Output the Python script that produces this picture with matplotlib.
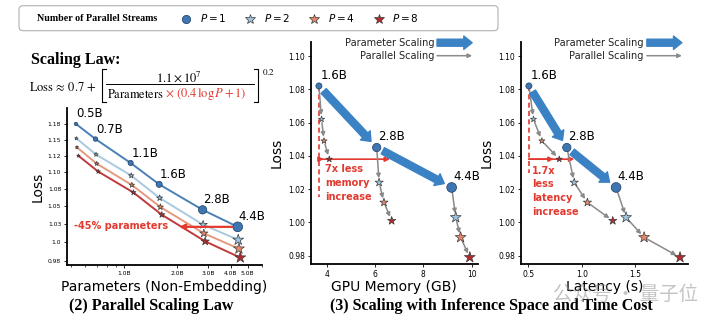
import matplotlib
matplotlib.use("Agg")
import matplotlib.pyplot as plt
from matplotlib.lines import Line2D
from matplotlib.patches import FancyBboxPatch
from matplotlib.ticker import FixedLocator, FixedFormatter, NullLocator, NullFormatter

# ---------------- data ----------------
model_labels = ["0.5B", "0.7B", "1.1B", "1.6B", "2.8B", "4.4B"]

# non-embedding parameters (billions) for each number of parallel streams
params_p1 = [0.535, 0.690, 1.090, 1.580, 2.780, 4.390]
params_p2 = [0.538, 0.695, 1.098, 1.590, 2.800, 4.420]
params_p4 = [0.542, 0.701, 1.108, 1.605, 2.825, 4.460]
params_p8 = [0.553, 0.715, 1.130, 1.635, 2.875, 4.540]

loss_p1 = [1.175, 1.151, 1.114, 1.082, 1.045, 1.021]
loss_p2 = [1.152, 1.127, 1.095, 1.062, 1.024, 1.003]
loss_p4 = [1.138, 1.113, 1.081, 1.049, 1.012, 0.991]
loss_p8 = [1.125, 1.101, 1.070, 1.038, 1.001, 0.979]

# inference cost of the three largest models (1.6B, 2.8B, 4.4B)
mem_p1 = [3.68, 6.07, 9.17]
mem_p2 = [3.79, 6.17, 9.34]
mem_p4 = [3.89, 6.37, 9.54]
mem_p8 = [4.11, 6.69, 9.92]

lat_p1 = [0.504, 0.860, 1.322]
lat_p2 = [0.547, 0.929, 1.416]
lat_p4 = [0.626, 1.053, 1.585]
lat_p8 = [0.789, 1.291, 1.922]

stream_counts = [1, 2, 4, 8]

left_yticks = [0.975, 1.0, 1.025, 1.05, 1.075, 1.10, 1.125, 1.15, 1.175]
left_yticklabels = ["0.98", "1.0", "1.03", "1.05", "1.08", "1.10", "1.12", "1.15", "1.18"]
left_xticks = [1.0, 2.0, 3.0, 4.0, 5.0]
left_xticklabels = ["1.0B", "2.0B", "3.0B", "4.0B", "5.0B"]
cost_yticks = [0.98, 1.00, 1.02, 1.04, 1.06, 1.08, 1.10]
mem_xticks = [4, 6, 8, 10]
lat_xticks = [0.5, 1.0, 1.5]

# ---------------- style ----------------
W, H = 720, 325
fill = {1: "#3d76b0", 2: "#9cc3df", 4: "#e5896a", 8: "#b52a2e"}
line_col = {1: "#4a80b8", 2: "#a9c9e0", 4: "#e59a80", 8: "#c0393c"}
edge = {1: "#1d3d63", 2: "#3a3a3a", 4: "#3a3a3a", 8: "#3a3a3a"}
marker = {1: "o", 2: "*", 4: "*", 8: "*"}
red = "#e23a30"
blue_arrow = "#3b82c4"
gray_arrow = "#8a8a8a"
blue_style = "simple,head_length=0.5,head_width=0.8,tail_width=0.42"
circle_ms = [2.4, 3.2, 3.7, 4.4, 6.0, 7.0]
star_ms = [2.6, 3.3, 4.0, 4.6, 6.2, 8.2]

params = {1: params_p1, 2: params_p2, 4: params_p4, 8: params_p8}
losses = {1: loss_p1, 2: loss_p2, 4: loss_p4, 8: loss_p8}
mems = {1: mem_p1, 2: mem_p2, 4: mem_p4, 8: mem_p8}
lats = {1: lat_p1, 2: lat_p2, 4: lat_p4, 8: lat_p8}


def fx(x):
    return x / W


def fy(y):
    return 1 - y / H


def rect(x0, y0, x1, y1):
    return [fx(x0), fy(y1), (x1 - x0) / W, (y1 - y0) / H]


def sizes(p, idx):
    ms = circle_ms if p == 1 else star_ms
    return [ms[i] ** 2 for i in idx]


def style_axes(ax, tick_fs):
    for s in ("top", "right"):
        ax.spines[s].set_visible(False)
    for s in ("left", "bottom"):
        ax.spines[s].set_linewidth(1.3)
    ax.tick_params(labelsize=tick_fs, length=2.5, width=0.6, pad=1.5)
    ax.tick_params(which="minor", length=1.5, width=0.5)


fig = plt.figure(figsize=(W / 100, H / 100), dpi=100)

# ---------------- top legend ----------------
box = FancyBboxPatch((0.19, (H - 30.7) / 100), 4.79, 0.25,
                     boxstyle="round,pad=0,rounding_size=0.04",
                     transform=fig.dpi_scale_trans, fc="white", ec="#b0b0b0", lw=0.8)
fig.add_artist(box)
fig.text(fx(37), fy(18.5), "Number of Parallel Streams", family="Liberation Serif",
         weight="bold", fontsize=7.2, ha="left", va="center")
handles = [Line2D([], [], ls="", marker=marker[p], ms=6 if p == 1 else 7.5,
                  mfc=fill[p], mec=edge[p], mew=0.5) for p in stream_counts]
fig.legend(handles, [f"$P = {p}$" for p in stream_counts], loc="center left",
           bbox_to_anchor=(fx(181), fy(18.5)), ncol=4, frameon=False, fontsize=7.5,
           handlelength=1.0, handletextpad=0.8, columnspacing=1.8,
           borderpad=0, borderaxespad=0)

# ---------------- scaling-law formula ----------------
fig.text(fx(31), fy(60), "Scaling Law:", family="Liberation Serif", weight="bold",
         fontsize=11.5, ha="left", va="center")
fig.text(fx(29), fy(87), r"$\mathrm{Loss}\,\approx\,0.7\,+$", math_fontfamily="stix",
         fontsize=9, ha="left", va="center")
fig.text(fx(179), fy(77.5), r"$1.1\times10^{7}$", math_fontfamily="stix",
         fontsize=9, ha="center", va="center")
fig.text(fx(107), fy(94.5), r"$\mathrm{Parameters}$", math_fontfamily="stix",
         fontsize=9, ha="left", va="center")
fig.text(fx(165), fy(94.5), r"$\times\ (0.4\,\log P+1)$", math_fontfamily="stix",
         fontsize=9, ha="left", va="center", color=red)
fig.text(fx(262), fy(72), r"$0.2$", math_fontfamily="stix", fontsize=6.5,
         ha="left", va="center")
frac_line = Line2D([fx(106), fx(254)], [fy(83.5), fy(83.5)], lw=0.7, color="black",
                   transform=fig.transFigure)
fig.add_artist(frac_line)
for xb, xs in ((102, 106), (258, 254)):
    fig.add_artist(Line2D([fx(xs), fx(xb), fx(xb), fx(xs)],
                          [fy(69), fy(69), fy(102), fy(102)], lw=0.8,
                          color="black", transform=fig.transFigure))

# ---------------- (2) parallel scaling law ----------------
ax1 = fig.add_axes(rect(66.7, 108, 262, 265))
ax1.set_xscale("log")
ax1.set_yscale("log")
all_idx = range(len(model_labels))
for p in stream_counts:
    ax1.plot(params[p], losses[p], color=line_col[p], lw=1.4, zorder=2)
    ax1.scatter(params[p], losses[p], s=sizes(p, all_idx), marker=marker[p],
                c=fill[p], edgecolors=edge[p], linewidths=0.5, zorder=3)
for lab, x, y in zip(model_labels, params_p1, loss_p1):
    ax1.annotate(lab, (x, y), xytext=(0.5, 2.5), textcoords="offset points",
                 ha="left", va="bottom", fontsize=8.5)
ax1.annotate("", xy=(2.05, loss_p1[-1]), xytext=(params_p1[-1], loss_p1[-1]),
             arrowprops=dict(arrowstyle="-|>", color=red, lw=1.6, shrinkA=4,
                             shrinkB=0, mutation_scale=8), zorder=4)
ax1.text(1.78, 1.0225, "-45% parameters", color=red, weight="bold", fontsize=7,
         ha="right", va="center")
ax1.set_xlim(0.4745, 6.02)
ax1.set_ylim(0.9692, 1.2008)
ax1.xaxis.set_major_locator(FixedLocator(left_xticks))
ax1.xaxis.set_major_formatter(FixedFormatter(left_xticklabels))
ax1.xaxis.set_minor_formatter(NullFormatter())
ax1.yaxis.set_major_locator(FixedLocator(left_yticks))
ax1.yaxis.set_major_formatter(FixedFormatter(left_yticklabels))
ax1.yaxis.set_minor_locator(NullLocator())
style_axes(ax1, 4.3)
ax1.set_xlabel("Parameters (Non-Embedding)", fontsize=10)
ax1.set_ylabel("Loss", fontsize=10)
ax1.xaxis.set_label_coords(0.5, -0.096)
ax1.yaxis.set_label_coords(-0.114, 0.5)
fig.text(fx(151.5), fy(306.5), "(2) Parallel Scaling Law", family="Liberation Serif",
         weight="bold", fontsize=11.5, ha="center", va="center")


# ---------------- (3) inference space / time ----------------
def cost_panel(ax, xs, xlim, xticks, xlabel, dash_bottom, long_end, note, note_xy,
               spacing):
    cost_idx = [3, 4, 5]
    c_loss = {p: losses[p][3:] for p in stream_counts}
    # parallel scaling: P=1 -> 2 -> 4 -> 8 for each model size
    for m in range(3):
        for a, b in zip(stream_counts[:-1], stream_counts[1:]):
            ax.annotate("", xy=(xs[b][m], c_loss[b][m]), xytext=(xs[a][m], c_loss[a][m]),
                        arrowprops=dict(arrowstyle="-|>", color=gray_arrow, lw=1.1,
                                        mutation_scale=6, shrinkA=2.5, shrinkB=3),
                        zorder=2)
    # parameter scaling between model sizes
    for m in range(2):
        ax.annotate("", xy=(xs[1][m + 1], c_loss[1][m + 1]), xytext=(xs[1][m], c_loss[1][m]),
                    arrowprops=dict(arrowstyle=blue_style, color=blue_arrow,
                                    mutation_scale=12, shrinkA=5, shrinkB=6),
                    zorder=2)
    for p in stream_counts:
        ax.scatter(xs[p], c_loss[p], s=sizes(p, cost_idx), marker=marker[p], c=fill[p],
                   edgecolors=edge[p], linewidths=0.5, zorder=3)
    for m, lab in enumerate(model_labels[3:]):
        ax.annotate(lab, (xs[1][m], c_loss[1][m]), xytext=(1, 3), textcoords="offset points",
                    ha="left", va="bottom", fontsize=8.5)
    # red comparison marks
    x0 = xs[1][0]
    ax.plot([x0, x0], [c_loss[1][0], dash_bottom], ls=(0, (3, 2)), color=red, lw=1.2, zorder=1)
    y8 = c_loss[8][0]
    ax.annotate("", xy=(long_end, y8), xytext=(x0, y8),
                arrowprops=dict(arrowstyle="-|>", color=red, lw=1.2, mutation_scale=7,
                                shrinkA=0, shrinkB=0), zorder=1)
    ax.annotate("", xy=(xs[8][0], y8), xytext=(x0, y8),
                arrowprops=dict(arrowstyle="-|>", color=red, lw=1.2, mutation_scale=7,
                                shrinkA=0, shrinkB=4), zorder=1)
    ax.text(note_xy[0], note_xy[1], note, color=red, weight="bold", fontsize=7,
            ha="left", va="top", linespacing=spacing)
    # arrow legend
    ax.text(0.737, 0.9955, "Parameter Scaling", transform=ax.transAxes, fontsize=7,
            ha="right", va="center", color="#222222")
    ax.text(0.737, 0.937, "Parallel Scaling", transform=ax.transAxes, fontsize=7,
            ha="right", va="center", color="#222222")
    ax.annotate("", xy=(0.965, 0.9955), xytext=(0.755, 0.9955), xycoords="axes fraction",
                arrowprops=dict(arrowstyle=blue_style, color=blue_arrow,
                                mutation_scale=12, shrinkA=0, shrinkB=0),
                annotation_clip=False)
    ax.annotate("", xy=(0.965, 0.937), xytext=(0.755, 0.937), xycoords="axes fraction",
                arrowprops=dict(arrowstyle="-|>", color=gray_arrow, lw=1.1, mutation_scale=6,
                                shrinkA=0, shrinkB=0),
                annotation_clip=False)
    ax.set_xlim(*xlim)
    ax.set_ylim(0.975, 1.1086)
    ax.set_xticks(xticks)
    ax.set_yticks(cost_yticks)
    ax.set_yticklabels([f"{v:.2f}" for v in cost_yticks])
    style_axes(ax, 5.5)
    ax.set_xlabel(xlabel, fontsize=10)
    ax.set_ylabel("Loss", fontsize=10)
    ax.xaxis.set_label_coords(0.5, -0.07)


ax2 = fig.add_axes(rect(310.7, 41.7, 478, 264))
cost_panel(ax2, mems, (3.34, 10.26), mem_xticks, "GPU Memory (GB)", 1.0155, 6.62,
           "7x less\nmemory\nincrease", (3.93, 1.035), 1.5)
ax2.yaxis.set_label_coords(-0.16, 0.5)

ax3 = fig.add_axes(rect(521, 41.7, 687.7, 264))
cost_panel(ax3, lats, (0.43, 1.994), lat_xticks, "Latency (s)", 1.0294, 0.93,
           "1.7x\nless\nlatency\nincrease", (0.537, 1.034), 1.45)
ax3.yaxis.set_label_coords(-0.165, 0.5)

fig.text(fx(491), fy(306.5), "(3) Scaling with Inference Space and Time Cost",
         family="Liberation Serif", weight="bold", fontsize=11.5, ha="center", va="center")

# watermark
fig.text(fx(626), fy(294), "公众号 · 量子位", family=["Noto Sans CJK SC", "DejaVu Sans"],
         fontsize=14, color="#8c8c8c", alpha=0.5, ha="center", va="center")

fig.savefig("out.png", dpi=100, facecolor="white")
